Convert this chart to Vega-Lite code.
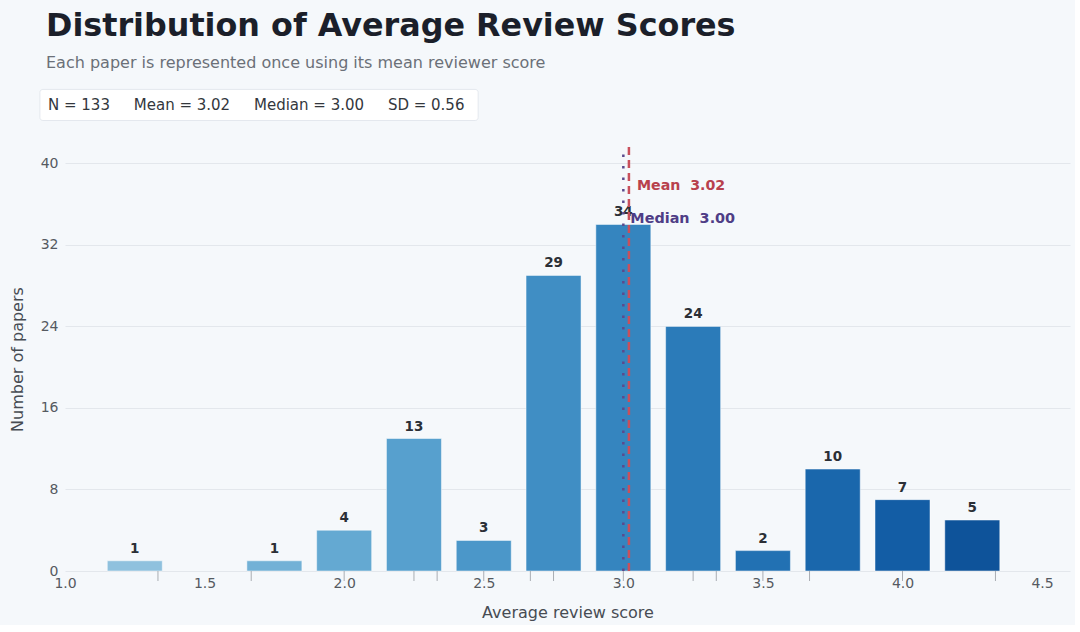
{
  "$schema": "https://vega.github.io/schema/vega-lite/v6.json",
  "width": 1005,
  "height": 424,
  "padding": {"left": 9, "top": 11, "right": 5, "bottom": 5},
  "background": "#f5f8fb",
  "title": {
    "text": "Distribution of Average Review Scores",
    "subtitle": "Each paper is represented once using its mean reviewer score",
    "anchor": "start",
    "frame": "group",
    "dx": -19,
    "offset": 18,
    "font": "DejaVu Sans",
    "fontSize": 31.8,
    "fontWeight": "bold",
    "color": "#1b1f2a",
    "subtitleFont": "DejaVu Sans",
    "subtitleFontSize": 16,
    "subtitleColor": "#6b7078",
    "subtitlePadding": 12
  },
  "config": {
    "view": {"stroke": null},
    "font": "DejaVu Sans"
  },
  "datasets": {
    "bins": [
      {"score": 1.25, "count": 1},
      {"score": 1.75, "count": 1},
      {"score": 2.0, "count": 4},
      {"score": 2.25, "count": 13},
      {"score": 2.5, "count": 3},
      {"score": 2.75, "count": 29},
      {"score": 3.0, "count": 34},
      {"score": 3.25, "count": 24},
      {"score": 3.5, "count": 2},
      {"score": 3.75, "count": 10},
      {"score": 4.0, "count": 7},
      {"score": 4.25, "count": 5}
    ],
    "rug": [
      {"score": 1.333}, {"score": 1.667}, {"score": 2.0}, {"score": 2.25}, {"score": 2.333},
      {"score": 2.5}, {"score": 2.667}, {"score": 2.75}, {"score": 3.0}, {"score": 3.25},
      {"score": 3.333}, {"score": 3.5}, {"score": 3.667}, {"score": 4.0}, {"score": 4.333}
    ],
    "stats": [
      {"stat": "Mean", "value": 3.02, "label": "Mean\u00a0\u00a03.02"},
      {"stat": "Median", "value": 3.0, "label": "Median\u00a0\u00a03.00"}
    ],
    "summary": [
      {"text": "N = 133\u00a0\u00a0\u00a0\u00a0\u00a0Mean = 3.02\u00a0\u00a0\u00a0\u00a0\u00a0Median = 3.00\u00a0\u00a0\u00a0\u00a0\u00a0SD = 0.56"}
    ]
  },
  "layer": [
    {
      "data": {"name": "bins"},
      "mark": {"type": "bar", "size": 55, "stroke": "#ffffff", "strokeWidth": 0.8, "strokeOpacity": 0.6},
      "encoding": {
        "x": {
          "field": "score",
          "type": "quantitative",
          "scale": {"domain": [1.0, 4.6], "nice": false, "zero": false, "padding": 0},
          "axis": {
            "values": [1.0, 1.5, 2.0, 2.5, 3.0, 3.5, 4.0, 4.5],
            "format": ".1f",
            "title": "Average review score",
            "grid": false,
            "ticks": false,
            "domain": false,
            "labelFlush": false,
            "labelFontSize": 14,
            "labelColor": "#555a61",
            "labelPadding": 5,
            "titleFontSize": 16,
            "titleFontWeight": "normal",
            "titleColor": "#474c53",
            "titlePadding": 14
          }
        },
        "y": {
          "field": "count",
          "type": "quantitative",
          "scale": {"domain": [0, 41.6], "nice": false},
          "axis": {
            "values": [0, 8, 16, 24, 32, 40],
            "title": "Number of papers",
            "grid": true,
            "gridColor": "#e3e7ec",
            "gridWidth": 1,
            "ticks": false,
            "domain": false,
            "labelFlush": false,
            "labelFontSize": 14,
            "labelColor": "#555a61",
            "labelPadding": 7,
            "titleFontSize": 16,
            "titleFontWeight": "normal",
            "titleColor": "#474c53",
            "titlePadding": 15
          }
        },
        "color": {
          "field": "score",
          "type": "quantitative",
          "scale": {"scheme": {"name": "blues", "extent": [0.3, 0.95]}, "domain": [1.25, 4.25]},
          "legend": null
        }
      }
    },
    {
      "data": {"name": "bins"},
      "mark": {"type": "text", "baseline": "bottom", "dy": -5, "fontSize": 13.5, "fontWeight": "bold", "color": "#2b2f36"},
      "encoding": {
        "x": {"field": "score", "type": "quantitative"},
        "y": {"field": "count", "type": "quantitative"},
        "text": {"field": "count", "type": "quantitative"}
      }
    },
    {
      "data": {"name": "rug"},
      "mark": {"type": "rule", "color": "#a9adb3", "strokeWidth": 1, "y2Offset": 10},
      "encoding": {
        "x": {"field": "score", "type": "quantitative"},
        "y": {"datum": 0},
        "y2": {"datum": 0}
      }
    },
    {
      "data": {"name": "stats"},
      "transform": [{"filter": "datum.stat === 'Median'"}],
      "mark": {"type": "rule", "color": "#5b4a8e", "strokeWidth": 2.5, "strokeDash": [2.5, 9]},
      "encoding": {
        "x": {"field": "value", "type": "quantitative"},
        "y": {"datum": 0},
        "y2": {"datum": 41.6}
      }
    },
    {
      "data": {"name": "stats"},
      "transform": [{"filter": "datum.stat === 'Mean'"}],
      "mark": {"type": "rule", "color": "#c9505c", "strokeWidth": 2.5, "strokeDash": [8, 5]},
      "encoding": {
        "x": {"field": "value", "type": "quantitative"},
        "y": {"datum": 0},
        "y2": {"datum": 41.6}
      }
    },
    {
      "data": {"name": "stats"},
      "transform": [{"filter": "datum.stat === 'Mean'"}],
      "mark": {"type": "text", "align": "left", "baseline": "middle", "dx": 8, "fontSize": 14.2, "fontWeight": "bold", "color": "#b8414d"},
      "encoding": {
        "x": {"field": "value", "type": "quantitative"},
        "y": {"datum": 37.8},
        "text": {"field": "label"}
      }
    },
    {
      "data": {"name": "stats"},
      "transform": [{"filter": "datum.stat === 'Median'"}],
      "mark": {"type": "text", "align": "left", "baseline": "middle", "dx": 7, "fontSize": 14.4, "fontWeight": "bold", "color": "#4f3d86"},
      "encoding": {
        "x": {"field": "value", "type": "quantitative"},
        "y": {"datum": 34.5},
        "text": {"field": "label"}
      }
    },
    {
      "data": {"name": "summary"},
      "mark": {"type": "rect", "fill": "#ffffff", "stroke": "#e4e8ee", "strokeWidth": 1, "cornerRadius": 3},
      "encoding": {
        "x": {"datum": 0.91},
        "x2": {"datum": 2.48},
        "y": {"datum": 47.25},
        "y2": {"datum": 44.2}
      }
    },
    {
      "data": {"name": "summary"},
      "mark": {"type": "text", "align": "left", "baseline": "middle", "fontSize": 15, "color": "#33373d"},
      "encoding": {
        "x": {"datum": 0.939},
        "y": {"datum": 45.75},
        "text": {"field": "text"}
      }
    }
  ]
}
